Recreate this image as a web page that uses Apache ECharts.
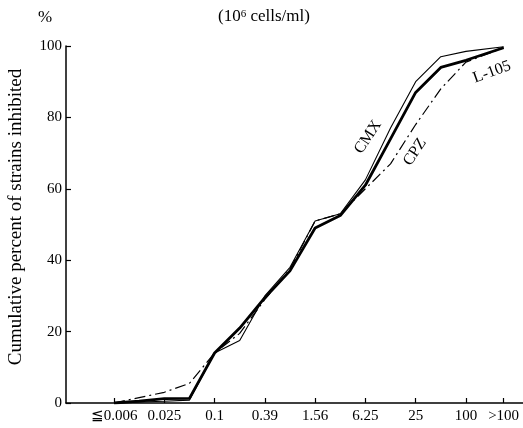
<!DOCTYPE html>
<html>
<head>
<meta charset="utf-8">
<script src="https://cdn.jsdelivr.net/npm/echarts@6/dist/echarts.min.js"></script>
<style>
html,body{margin:0;padding:0;background:#fff;}
#chart{width:523px;height:428px;}
</style>
</head>
<body>
<div id="chart"></div>
<script>
// Concentration steps (10^6 cells/ml), two-fold dilutions
var concentrations = ['≦0.006','0.0125','0.025','0.05','0.1','0.2','0.39','0.78','1.56','3.12','6.25','12.5','25','50','100','>100'];
// position of each step on the (log2) concentration axis
var stepPos = [0,1,2,3,4,5,6,7,8,9,10,11,12,13,14,15.5];
// labelled ticks
var tickLabels = ['≦0.006','0.025','0.1','0.39','1.56','6.25','25','100','>100'];
var tickPos = [0,2,4,6,8,10,12,14,15.5];
var yTicks = [0,20,40,60,80,100];

// cumulative percent of strains inhibited
var cmx  = [0, 0.3, 0.5, 0.8, 14, 17.5, 30, 38, 51, 53, 62.5, 77, 90, 97, 98.5, 99.8];
var l105 = [0, 0.5, 1.2, 1.3, 14, 21, 29.5, 37, 49, 52.5, 61, 74, 87, 94, 96, 99.5];
var cpz  = [0, 1.5, 3, 5.5, 14, 19.5, 29, 37.5, 51, 53, 60, 67, 78, 88, 95.5, 99.5];

function pairs(arr){ return arr.map(function(v,i){ return [stepPos[i], v]; }); }

var serif = 'Liberation Serif';
var chart = echarts.init(document.getElementById('chart'));
chart.setOption({
  animation: false,
  backgroundColor: '#fff',
  grid: {left: 66, right: 0, top: 46, bottom: 25, containLabel: false},
  xAxis: {
    type: 'value', min: -1.91, max: 16.27,
    axisLine: {show: true, onZero: false, lineStyle: {color: '#000', width: 1.5}},
    axisTick: {show: true, inside: true, length: 5, customValues: tickPos, lineStyle: {color: '#000', width: 1.2}},
    axisLabel: {
      customValues: tickPos, margin: 6,
      color: '#000', fontFamily: serif, fontSize: 15,
      formatter: function(v){ var i = tickPos.indexOf(v); return i >= 0 ? tickLabels[i] : ''; }
    },
    splitLine: {show: false}
  },
  yAxis: {
    type: 'value', min: 0, max: 100, interval: 20,
    axisLine: {show: true, onZero: false, lineStyle: {color: '#000', width: 1.5}},
    axisTick: {show: true, inside: true, length: 5, lineStyle: {color: '#000', width: 1.2}},
    axisLabel: {color: '#000', fontFamily: serif, fontSize: 15, margin: 4,
      formatter: function(v){ return yTicks.indexOf(v) >= 0 ? String(v) : ''; }},
    splitLine: {show: false}
  },
  series: [
    {name: 'CMX', type: 'line', data: pairs(cmx), symbol: 'none',
     lineStyle: {color: '#000', width: 1.1}},
    {name: 'CPZ', type: 'line', data: pairs(cpz), symbol: 'none',
     lineStyle: {color: '#000', width: 1.2, type: [11, 4, 2, 4]}},
    {name: 'L-105', type: 'line', data: pairs(l105), symbol: 'none',
     lineStyle: {color: '#000', width: 2.8}}
  ],
  graphic: [
    {type: 'text', left: 38, top: 9, style: {text: '%', fontFamily: serif, fontSize: 17, fill: '#000'}},
    {type: 'text', x: 264, y: 17, style: {
      text: '(10{sup|6} cells/ml)', fontFamily: serif, fontSize: 17, fill: '#000',
      align: 'center', verticalAlign: 'middle',
      rich: {sup: {fontSize: 11, fontFamily: serif, verticalAlign: 'top', padding: [0,0,6,0]}}}},
    {type: 'text', x: 16, y: 217, rotation: Math.PI/2, style: {
      text: 'Cumulative percent of strains inhibited', fontFamily: serif, fontSize: 19, fill: '#000',
      align: 'center', verticalAlign: 'middle'}},
    {type: 'text', x: 368, y: 137, rotation: 57*Math.PI/180, style: {
      text: 'CMX', fontFamily: serif, fontSize: 16, fill: '#000', align: 'center', verticalAlign: 'middle'}},
    {type: 'text', x: 415, y: 152, rotation: 57*Math.PI/180, style: {
      text: 'CPZ', fontFamily: serif, fontSize: 16, fill: '#000', align: 'center', verticalAlign: 'middle'}},
    {type: 'text', x: 492, y: 72, rotation: 20*Math.PI/180, style: {
      text: 'L-105', fontFamily: serif, fontSize: 16, fill: '#000', align: 'center', verticalAlign: 'middle'}}
  ]
});
</script>
</body>
</html>
